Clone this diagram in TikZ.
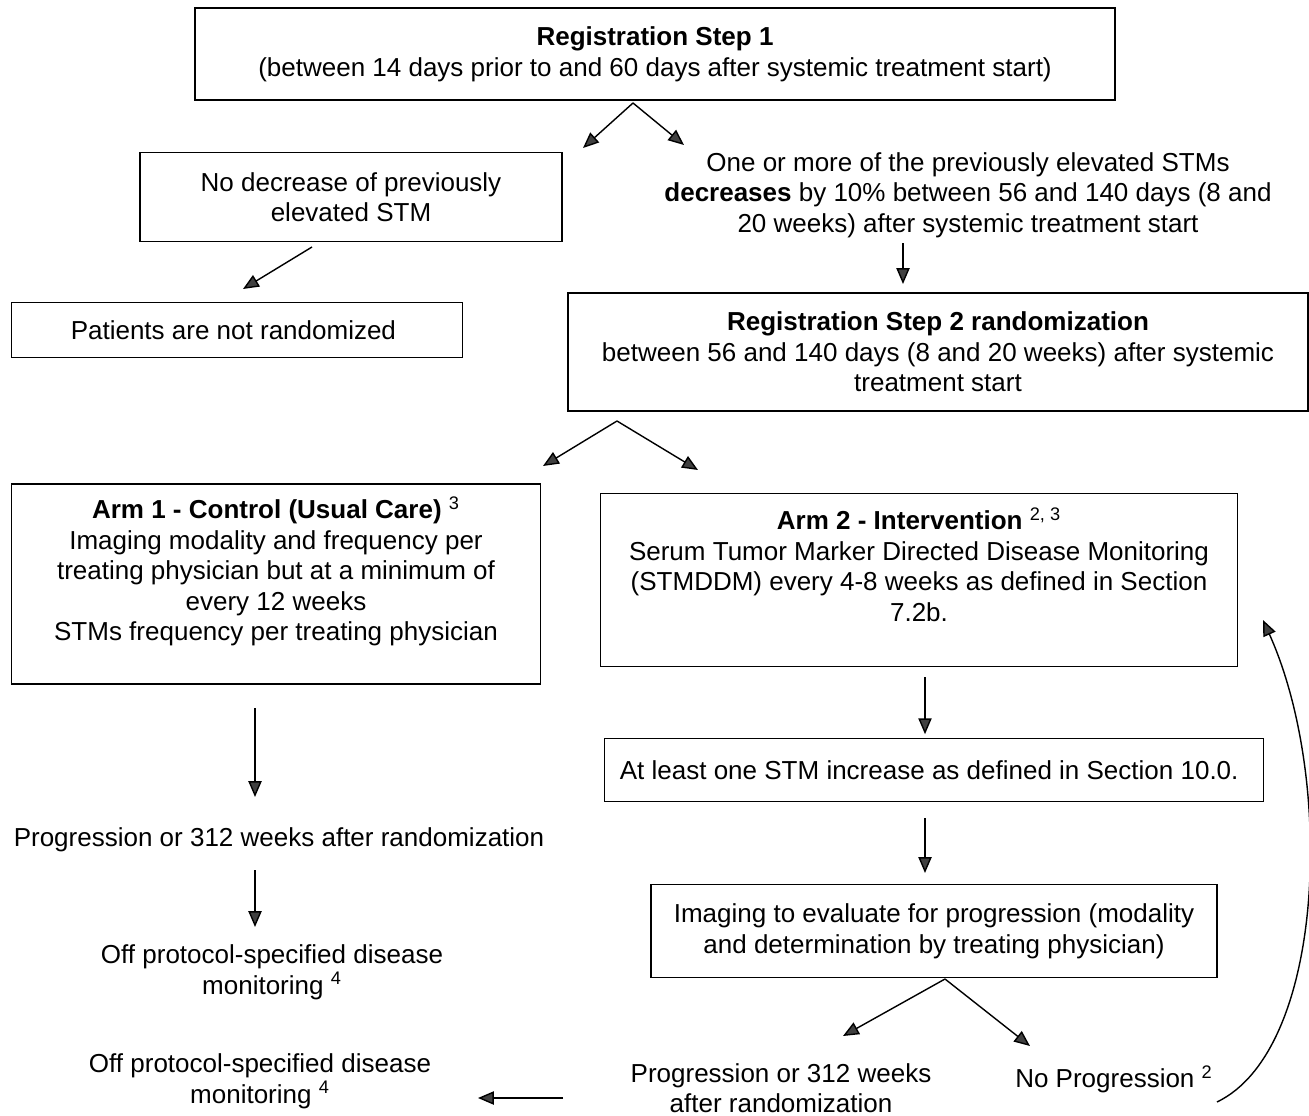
\documentclass[tikz,border=0pt]{standalone}
\usepackage{fontspec}
\setmainfont{Liberation Sans}
\usetikzlibrary{positioning,arrows.meta,calc}

\begin{document}
\begin{tikzpicture}[
    x=0.02cm, y=-0.02cm,
    flowBox/.style={draw=black, line width=0.8pt, align=center, inner sep=3pt, font=\fontsize{14.8}{17.4}\selectfont},
    flowText/.style={align=center, inner sep=2pt, font=\fontsize{14.8}{17.4}\selectfont},
    flowArrow/.style={-{Triangle[length=9pt, width=7.5pt, fill=black!75]}, line width=0.8pt, draw=black}
]
    \useasboundingbox (0,0) rectangle (1309,1116);

    % Registrazione
    \node[flowBox, minimum width=18.4cm, minimum height=1.84cm] (root) at (655,54) {
        \textbf{Registration Step 1}\\
        (between 14 days prior to and 60 days after systemic treatment start)
    };

    \node[flowBox, minimum width=8.44cm, minimum height=1.78cm] (noDec) at (351,197) {
        No decrease of previously\\
        elevated STM
    };

    \node[flowText] (decText) at (968,195) {
        One or more of the previously elevated STMs\\
        \textbf{decreases} by 10\% between 56 and 140 days (8 and\\
        20 weeks) after systemic treatment start
    };

    \node[flowBox, minimum width=9.02cm, minimum height=1.1cm] (notRand) at (237,330) {
        Patients are not randomized
    };

    \node[flowBox, minimum width=14.8cm, minimum height=2.36cm] (step2) at (938,352) {
        \textbf{Registration Step 2 randomization}\\
        between 56 and 140 days (8 and 20 weeks) after systemic\\
        treatment start
    };

    % Bracci
    \node[flowBox, minimum width=10.58cm, minimum height=4.0cm] (arm1) at (276,584) {
        \textbf{Arm 1 - Control (Usual Care)} \textsuperscript{3}\\
        Imaging modality and frequency per\\
        treating physician but at a minimum of\\
        every 12 weeks\\
        STMs frequency per treating physician\\
        \mbox{}
    };

    \node[flowBox, minimum width=12.74cm, minimum height=3.46cm] (arm2) at (919,580) {
        \textbf{Arm 2 - Intervention} \textsuperscript{2, 3}\\
        Serum Tumor Marker Directed Disease Monitoring\\
        (STMDDM) every 4-8 weeks as defined in Section\\
        7.2b.\\
        \mbox{}
    };

    \node[flowBox, minimum width=13.18cm, minimum height=1.26cm] (stmInc) at (934,770) {
        At least one STM increase as defined in Section 10.0.
    };

    \node[flowBox, minimum width=11.32cm, minimum height=1.86cm] (imaging) at (934,931) {
        Imaging to evaluate for progression (modality\\
        and determination by treating physician)
    };

    \node[flowText] (progR) at (781,1088) {
        Progression or 312 weeks\\
        after randomization
    };
    \node[flowText] (noProg) at (1114,1079) {No Progression \textsuperscript{2}};
    \node[flowText] (offR) at (260,1081) {
        Off protocol-specified disease\\
        monitoring \textsuperscript{4}
    };

    \node[flowText] (progL) at (279,840) {Progression or 312 weeks after randomization};
    \node[flowText] (offL) at (272,972) {
        Off protocol-specified disease\\
        monitoring \textsuperscript{4}
    };

    % Connettori
    \coordinate (split1) at (633,103);
    \coordinate (split2) at (617,421);
    \coordinate (split3) at (945,979);
    \coordinate (loopStart) at (1217,1102);
    \coordinate (loopEnd) at (1263,620);

    \draw[flowArrow] (split1) -- (583,148);
    \draw[flowArrow] (split1) -- (684,145);
    \draw[flowArrow] (312,247) -- (243,289);
    \draw[flowArrow] (903,243) -- (903,284);
    \draw[flowArrow] (split2) -- (543,466);
    \draw[flowArrow] (split2) -- (698,470);
    \draw[flowArrow] (arm2.south -| stmInc.south) ++(-9,10) -- ++(0,57);
    \draw[flowArrow] (925,818) -- (925,873);
    \draw[flowArrow] (split3) -- (843,1036);
    \draw[flowArrow] (split3) -- (1030,1046);
    \draw[flowArrow] (loopStart) .. controls (1325,1050) and (1335,780) .. (loopEnd);
    \draw[flowArrow] (563,1098) -- (478,1098);
    \draw[flowArrow] (255,708) -- (255,797);
    \draw[flowArrow] (255,870) -- (255,927);
\end{tikzpicture}
\end{document}
